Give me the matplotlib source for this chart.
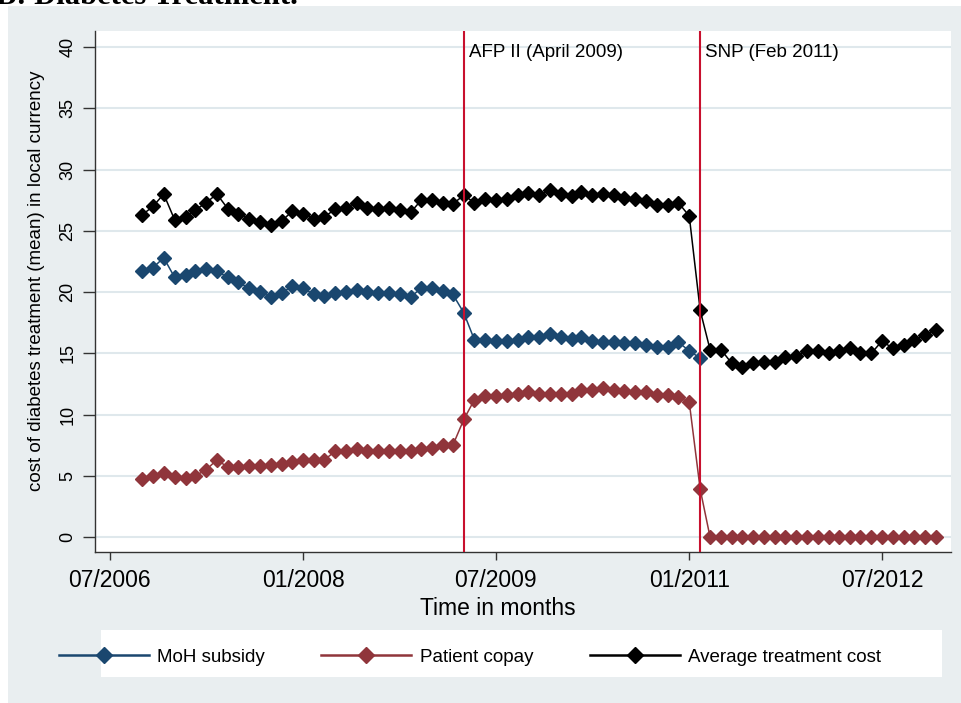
import numpy as np
import pandas as pd
import matplotlib
matplotlib.use('Agg')
import matplotlib.pyplot as plt
import matplotlib.dates as mdates
from matplotlib.lines import Line2D
from matplotlib.patches import Rectangle

plt.rcParams['font.family'] = ['Liberation Sans', 'DejaVu Sans']

# monthly means, Oct 2006 - Dec 2012
months = pd.date_range('2006-10-01', periods=75, freq='MS')

avg_cost = [26.3, 27.0, 28.0, 25.9, 26.1, 26.7, 27.3, 28.0, 26.8, 26.4,
            26.0, 25.7, 25.5, 25.8, 26.6, 26.4, 26.0, 26.1, 26.8, 26.9,
            27.3, 26.9, 26.8, 26.9, 26.7, 26.5, 27.5, 27.5, 27.3, 27.2,
            27.9, 27.3, 27.6, 27.5, 27.6, 27.9, 28.1, 27.9, 28.3, 28.0,
            27.8, 28.2, 27.9, 28.0, 27.9, 27.7, 27.6, 27.4, 27.1, 27.1,
            27.3, 26.2, 18.5, 15.3, 15.3, 14.2, 13.9, 14.2, 14.3, 14.3,
            14.7, 14.8, 15.2, 15.2, 15.0, 15.2, 15.4, 15.0, 15.0, 16.0,
            15.4, 15.7, 16.1, 16.5, 16.9]

copay = [4.7, 5.0, 5.2, 4.9, 4.8, 5.0, 5.5, 6.3, 5.7, 5.7,
         5.8, 5.8, 5.9, 6.0, 6.1, 6.3, 6.3, 6.3, 7.0, 7.0,
         7.2, 7.0, 7.0, 7.0, 7.0, 7.0, 7.2, 7.3, 7.5, 7.5,
         9.6, 11.2, 11.5, 11.5, 11.6, 11.7, 11.8, 11.7, 11.7, 11.7,
         11.7, 12.0, 12.0, 12.2, 12.0, 11.9, 11.8, 11.8, 11.6, 11.6,
         11.4, 11.0, 3.9] + [0.0] * 22

# subsidy series stops at Feb 2011
subsidy = [21.7, 22.0, 22.8, 21.2, 21.4, 21.7, 21.9, 21.7, 21.2, 20.8,
           20.3, 20.0, 19.6, 19.9, 20.5, 20.3, 19.8, 19.7, 19.9, 20.0,
           20.2, 20.0, 19.9, 19.9, 19.8, 19.6, 20.3, 20.3, 20.1, 19.8,
           18.3, 16.1, 16.1, 16.0, 16.0, 16.1, 16.3, 16.3, 16.6, 16.3,
           16.2, 16.3, 16.0, 15.9, 15.9, 15.8, 15.8, 15.7, 15.5, 15.5,
           15.9, 15.2, 14.6]

event_dates = ['2009-04-01', '2011-02-01']
event_labels = ['AFP II (April 2009)', 'SNP (Feb 2011)']
xtick_dates = ['2006-07-01', '2008-01-01', '2009-07-01', '2011-01-01', '2012-07-01']

series_labels = ['MoH subsidy', 'Patient copay', 'Average treatment cost']
colors = ['#1a476f', '#90353b', '#000000']

W, H = 961, 703
fig = plt.figure(figsize=(W / 100, H / 100), dpi=100, facecolor='#e9eef0')

# white strips at top and left (cropped page)
fig.add_artist(Rectangle((0, (H - 6) / H), 1, 6 / H, transform=fig.transFigure,
                         facecolor='white', edgecolor='none', zorder=0))
fig.add_artist(Rectangle((0, 0), 8 / W, 1, transform=fig.transFigure,
                         facecolor='white', edgecolor='none', zorder=0))
fig.text(-4 / W, (H - 4) / H, 'B: Diabetes Treatment.', family='Liberation Serif',
         weight='bold', fontsize=22, ha='left', va='baseline', zorder=3)

ax = fig.add_axes([95 / W, 151 / H, 856 / W, 521 / H])
ax.set_facecolor('white')

ms = 7.6
ax.plot(months[:len(subsidy)], subsidy, color=colors[0], lw=1.1,
        marker='D', ms=ms, mec=colors[0])
ax.plot(months, copay, color=colors[1], lw=1.1, marker='D', ms=ms, mec=colors[1])
ax.plot(months, avg_cost, color=colors[2], lw=1.1, marker='D', ms=ms, mec=colors[2])

for d, lab in zip(event_dates, event_labels):
    ax.axvline(pd.Timestamp(d), color='#c8102e', lw=1.5, zorder=3)
    ax.annotate(lab, xy=(pd.Timestamp(d), 1), xycoords=('data', 'axes fraction'),
                xytext=(3.5, -9.5), textcoords='offset points', va='top', ha='left',
                fontsize=13.5)

ax.set_xlim(pd.Timestamp('2006-05-20'), pd.Timestamp('2013-01-13'))
ax.set_ylim(-1.224, 41.31)
ax.set_yticks(range(0, 41, 5))
ax.set_xticks([pd.Timestamp(d) for d in xtick_dates])
ax.xaxis.set_major_formatter(mdates.DateFormatter('%m/%Y'))

ax.yaxis.grid(True, color='#dfe8ec', lw=1.5)
ax.set_axisbelow(True)
for s in ['top', 'right']:
    ax.spines[s].set_visible(False)
for s in ['left', 'bottom']:
    ax.spines[s].set_color('#333333')
    ax.spines[s].set_linewidth(1)

ax.tick_params(axis='y', direction='out', length=8.5, width=1, color='#333333',
               labelsize=13, pad=5, labelrotation=90)
for t in ax.get_yticklabels():
    t.set_va('center')
ax.tick_params(axis='x', direction='out', length=6, width=1, color='#333333',
               labelsize=16.5, pad=6)

ax.set_xlabel('Time in months', fontsize=16.5)
ax.xaxis.set_label_coords(0.4708, -0.086)
ax.set_ylabel('cost of diabetes treatment (mean) in local currency', fontsize=13.5)
ax.yaxis.set_label_coords(-0.058, 0.52)

# legend box
fig.add_artist(Rectangle((101 / W, (H - 677) / H), 841 / W, 47 / H,
                         transform=fig.transFigure, facecolor='white',
                         edgecolor='none', zorder=1))
handles = [Line2D([], [], color=c, lw=1.8, marker='D', ms=8, mec=c) for c in colors]
fig.legend(handles, series_labels, loc='center', bbox_to_anchor=(470 / W, (H - 657) / H),
           ncol=3, frameon=False, fontsize=13.5, handlelength=4.8,
           handletextpad=0.45, columnspacing=3.0)

fig.savefig('out.png', dpi=100, facecolor=fig.get_facecolor())
